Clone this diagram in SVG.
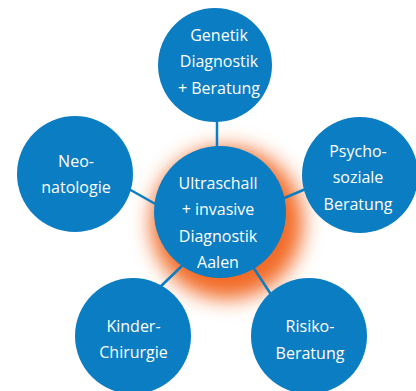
<svg xmlns="http://www.w3.org/2000/svg" width="416" height="391" viewBox="0 0 416 391">
<defs>
<style>
.n{fill:#0b7dc2}
.c{stroke:#0b7dc2;stroke-width:2.5;fill:none}
.t{font-family:"Open Sans","Noto Sans",sans-serif;font-size:16px;fill:#fff;text-anchor:middle}
</style>
<filter id="glow" x="-50%" y="-50%" width="200%" height="200%">
<feGaussianBlur stdDeviation="10"/>
</filter>
</defs>
<rect width="416" height="391" fill="#fff"/>
<circle cx="227" cy="223" r="76" fill="#f26a28" filter="url(#glow)"/>
<g id="connectors">
<line class="c" x1="217" y1="118" x2="217" y2="150"/>
<line class="c" x1="127" y1="188" x2="159" y2="206"/>
<line class="c" x1="282" y1="199" x2="308" y2="188"/>
<line class="c" x1="158" y1="289" x2="186" y2="262"/>
<line class="c" x1="251" y1="264" x2="274" y2="299"/>
</g>
<g id="center">
<circle class="n" cx="220" cy="212" r="66"/>
<text class="t" x="218" y="189">Ultraschall</text>
<text class="t" x="218" y="215">+ invasive</text>
<text class="t" x="218" y="241.5">Diagnostik</text>
<text class="t" x="218" y="268">Aalen</text>
</g>
<g id="genetik">
<circle class="n" cx="215" cy="65" r="57"/>
<text class="t" x="219" y="40.5">Genetik</text>
<text class="t" x="219" y="67">Diagnostik</text>
<text class="t" x="219" y="94">+ Beratung</text>
</g>
<g id="neo">
<circle class="n" cx="75" cy="174" r="58"/>
<text class="t" x="76" y="167">Neo-</text>
<text class="t" x="76" y="193">natologie</text>
</g>
<g id="psycho">
<circle class="n" cx="360" cy="175" r="58"/>
<text class="t" x="358" y="157">Psycho-</text>
<text class="t" x="358" y="183">soziale</text>
<text class="t" x="358" y="210">Beratung</text>
</g>
<g id="kinder">
<circle class="n" cx="133" cy="336" r="58"/>
<text class="t" x="133.5" y="332">Kinder-</text>
<text class="t" x="133.5" y="358">Chirurgie</text>
</g>
<g id="risiko">
<circle class="n" cx="309" cy="336" r="58"/>
<text class="t" x="310" y="332">Risiko-</text>
<text class="t" x="310" y="359">Beratung</text>
</g>
</svg>
